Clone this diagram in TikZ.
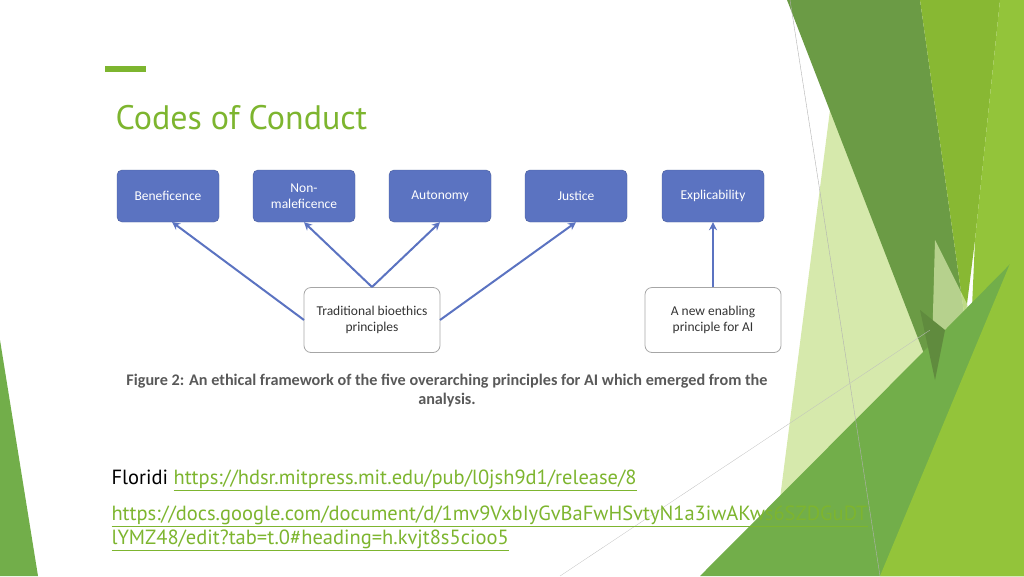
\documentclass[tikz,border=0pt]{standalone}
\usepackage{fontspec}
\usetikzlibrary{arrows.meta}
\setmainfont{Carlito}
\newfontfamily\tf{PT Sans}
\definecolor{bl}{HTML}{5B73C1}
\definecolor{gt}{HTML}{7DB52F}
\definecolor{dg}{HTML}{6B9B45}
\definecolor{mg}{HTML}{88B833}
\definecolor{lg}{HTML}{93C43A}
\definecolor{pg}{HTML}{D6E9AC}
\definecolor{bg2}{HTML}{72AE4A}
\begin{document}
\begin{tikzpicture}[x=1pt,y=-1pt,
 pb/.style={draw=bl!80!black,fill=bl,rounded corners=5pt,minimum width=102pt,minimum height=52pt,text=white,font=\fontsize{13.5}{16}\selectfont,align=center},
 wb/.style={draw=gray!70,line width=0.8pt,rounded corners=7pt,minimum width=136pt,minimum height=65pt,font=\fontsize{13.5}{16}\selectfont,align=center,text=black!80},
 ar/.style={draw=bl,line width=2pt,-{Stealth[length=8pt,width=8pt]}}]
\useasboundingbox (0,0) rectangle (1024,576);
% decoration
\fill[pg] (830,110) -- (945,330) -- (900,576) -- (770,576) -- cycle;
\fill[dg] (787,0) -- (920,0) -- (965,320) -- (940,395) -- cycle;
\fill[mg] (920,0) -- (1000,0) -- (975,240) -- (965,320) -- cycle;
\fill[lg] (1000,0) -- (1024,0) -- (1024,576) -- (960,576) -- (975,240) -- cycle;
\fill[pg,opacity=0.7] (935,240) -- (980,330) -- (930,420) -- cycle;
\fill[bg2] (945,330) -- (1024,250) -- (1024,576) -- (700,576) -- cycle;
\fill[lg] (1024,230) -- (1024,576) -- (880,576) -- cycle;
\fill[dg!90!black] (920,310) -- (945,330) -- (935,380) -- cycle;
\fill[bg2] (0,340) -- (38,576) -- (0,576) -- cycle;
\draw[gray!60,line width=0.4pt] (790,0) -- (880,576);
\draw[gray!50,line width=0.3pt] (560,576) -- (930,330);
% title
\fill[gt] (105,66) rectangle (146,72);
\node[anchor=west,text=gt,font=\tf\fontsize{34}{38}\selectfont] (t) at (112,118) {Codes of Conduct};
% boxes
\node[pb] (b1) at (168,196) {Beneficence};
\node[pb] (b2) at (304,196) {Non-\\maleficence};
\node[pb] (b3) at (440,196) {Autonomy};
\node[pb] (b4) at (576,196) {Justice};
\node[pb] (b5) at (713,196) {Explicability};
\node[wb] (tr) at (372,320) {Traditional bioethics\\principles};
\node[wb] (nw) at (713,320) {A new enabling\\principle for AI};
\coordinate (tl) at (304,320);
\coordinate (tt) at (372,287);
\coordinate (trr) at (440,320);
\draw[ar] (tl) -- (172,222);
\draw[ar] (tt) -- (b2.south);
\draw[ar] (tt) -- (b3.south);
\draw[ar] (trr) -- (b4.south);
\draw[ar] (nw) -- (b5);
\node[align=center,text=black!65,font=\bfseries\fontsize{16.2}{19}\selectfont] (cap) at (447,391) {Figure 2: An ethical framework of the five overarching principles for AI which emerged from the\\analysis.};
% links
\node[anchor=west,font=\tf\fontsize{20.5}{24}\selectfont] (fl) at (108,480) {Floridi \textcolor{gt}{\underline{https://hdsr.mitpress.mit.edu/pub/l0jsh9d1/release/8}}};
\node[anchor=north west,align=left,text=gt,font=\tf\fontsize{20.5}{24}\selectfont] (gl) at (108,502) {\underline{https://docs.google.com/document/d/1mv9VxbIyGvBaFwHSvtyN1a3iwAKws6SZDGuDT}\\\underline{lYMZ48/edit?tab=t.0\#heading=h.kvjt8s5cioo5}};
\end{tikzpicture}
\end{document}
